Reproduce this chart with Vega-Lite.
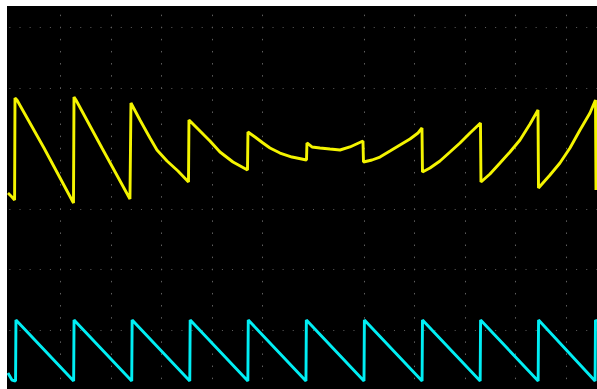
{
  "$schema": "https://vega.github.io/schema/vega-lite/v6.json",
  "width": 597,
  "height": 389,
  "autosize": {"type": "fit", "contains": "padding"},
  "padding": {"left": 7, "top": 6, "right": 0, "bottom": 0},
  "background": "white",
  "config": {
    "view": {"fill": "black", "stroke": null},
    "axis": {"labels": false, "ticks": false, "domain": false, "title": null}
  },
  "datasets": {
    "trace": [
      {"ch": "CH1", "t": -6.028, "v": -0.744},
      {"ch": "CH1", "t": -5.949, "v": -0.810},
      {"ch": "CH1", "t": -5.897, "v": -0.860},
      {"ch": "CH1", "t": -5.889, "v": 0.826},
      {"ch": "CH1", "t": -5.850, "v": 0.793},
      {"ch": "CH1", "t": -5.316, "v": 0.000},
      {"ch": "CH1", "t": -4.733, "v": -0.909},
      {"ch": "CH1", "t": -4.723, "v": 0.843},
      {"ch": "CH1", "t": -4.684, "v": 0.793},
      {"ch": "CH1", "t": -4.170, "v": 0.000},
      {"ch": "CH1", "t": -3.617, "v": -0.843},
      {"ch": "CH1", "t": -3.597, "v": 0.744},
      {"ch": "CH1", "t": -3.419, "v": 0.463},
      {"ch": "CH1", "t": -3.221, "v": 0.165},
      {"ch": "CH1", "t": -3.083, "v": -0.033},
      {"ch": "CH1", "t": -2.885, "v": -0.215},
      {"ch": "CH1", "t": -2.668, "v": -0.380},
      {"ch": "CH1", "t": -2.460, "v": -0.562},
      {"ch": "CH1", "t": -2.451, "v": 0.463},
      {"ch": "CH1", "t": -2.391, "v": 0.413},
      {"ch": "CH1", "t": -2.233, "v": 0.281},
      {"ch": "CH1", "t": -2.036, "v": 0.116},
      {"ch": "CH1", "t": -1.838, "v": -0.066},
      {"ch": "CH1", "t": -1.581, "v": -0.231},
      {"ch": "CH1", "t": -1.294, "v": -0.364},
      {"ch": "CH1", "t": -1.285, "v": 0.264},
      {"ch": "CH1", "t": -1.146, "v": 0.182},
      {"ch": "CH1", "t": -0.988, "v": 0.083},
      {"ch": "CH1", "t": -0.850, "v": 0.000},
      {"ch": "CH1", "t": -0.652, "v": -0.083},
      {"ch": "CH1", "t": -0.415, "v": -0.149},
      {"ch": "CH1", "t": -0.128, "v": -0.198},
      {"ch": "CH1", "t": -0.119, "v": 0.083},
      {"ch": "CH1", "t": -0.020, "v": 0.017},
      {"ch": "CH1", "t": 0.138, "v": 0.000},
      {"ch": "CH1", "t": 0.336, "v": -0.017},
      {"ch": "CH1", "t": 0.534, "v": -0.033},
      {"ch": "CH1", "t": 0.731, "v": 0.017},
      {"ch": "CH1", "t": 0.988, "v": 0.116},
      {"ch": "CH1", "t": 0.998, "v": -0.231},
      {"ch": "CH1", "t": 1.166, "v": -0.198},
      {"ch": "CH1", "t": 1.324, "v": -0.149},
      {"ch": "CH1", "t": 1.522, "v": -0.050},
      {"ch": "CH1", "t": 1.719, "v": 0.050},
      {"ch": "CH1", "t": 1.917, "v": 0.149},
      {"ch": "CH1", "t": 2.075, "v": 0.248},
      {"ch": "CH1", "t": 2.154, "v": 0.331},
      {"ch": "CH1", "t": 2.164, "v": -0.397},
      {"ch": "CH1", "t": 2.312, "v": -0.331},
      {"ch": "CH1", "t": 2.510, "v": -0.215},
      {"ch": "CH1", "t": 2.708, "v": -0.066},
      {"ch": "CH1", "t": 2.905, "v": 0.083},
      {"ch": "CH1", "t": 3.103, "v": 0.248},
      {"ch": "CH1", "t": 3.310, "v": 0.413},
      {"ch": "CH1", "t": 3.320, "v": -0.562},
      {"ch": "CH1", "t": 3.498, "v": -0.430},
      {"ch": "CH1", "t": 3.696, "v": -0.248},
      {"ch": "CH1", "t": 3.893, "v": -0.066},
      {"ch": "CH1", "t": 4.091, "v": 0.132},
      {"ch": "CH1", "t": 4.289, "v": 0.397},
      {"ch": "CH1", "t": 4.447, "v": 0.628},
      {"ch": "CH1", "t": 4.457, "v": -0.661},
      {"ch": "CH1", "t": 4.684, "v": -0.446},
      {"ch": "CH1", "t": 4.881, "v": -0.248},
      {"ch": "CH1", "t": 5.079, "v": 0.000},
      {"ch": "CH1", "t": 5.277, "v": 0.298},
      {"ch": "CH1", "t": 5.474, "v": 0.579},
      {"ch": "CH1", "t": 5.583, "v": 0.793},
      {"ch": "CH1", "t": 5.593, "v": -0.694},

      {"ch": "CH2", "t": -6.028, "v": -3.719},
      {"ch": "CH2", "t": -5.949, "v": -3.835},
      {"ch": "CH2", "t": -5.878, "v": -3.851},
      {"ch": "CH2", "t": -5.870, "v": -2.843},
      {"ch": "CH2", "t": -4.730, "v": -3.851},
      {"ch": "CH2", "t": -4.722, "v": -2.843},
      {"ch": "CH2", "t": -3.582, "v": -3.851},
      {"ch": "CH2", "t": -3.574, "v": -2.843},
      {"ch": "CH2", "t": -2.435, "v": -3.851},
      {"ch": "CH2", "t": -2.427, "v": -2.843},
      {"ch": "CH2", "t": -1.287, "v": -3.851},
      {"ch": "CH2", "t": -1.279, "v": -2.843},
      {"ch": "CH2", "t": -0.139, "v": -3.851},
      {"ch": "CH2", "t": -0.131, "v": -2.843},
      {"ch": "CH2", "t": 1.008, "v": -3.851},
      {"ch": "CH2", "t": 1.016, "v": -2.843},
      {"ch": "CH2", "t": 2.156, "v": -3.851},
      {"ch": "CH2", "t": 2.164, "v": -2.843},
      {"ch": "CH2", "t": 3.304, "v": -3.851},
      {"ch": "CH2", "t": 3.312, "v": -2.843},
      {"ch": "CH2", "t": 4.450, "v": -3.851},
      {"ch": "CH2", "t": 4.458, "v": -2.843},
      {"ch": "CH2", "t": 5.575, "v": -3.851},
      {"ch": "CH2", "t": 5.583, "v": -2.843},
      {"ch": "CH2", "t": 5.613, "v": -2.870}
    ]
  },
  "layer": [
    {
      "description": "Horizontal centre axis with its minor tick marks",
      "mark": {"type": "rule", "color": "#6e6e6e", "strokeWidth": 6, "strokeDash": [1, 9.12], "strokeDashOffset": 8.22},
      "encoding": {
        "y": {"datum": 0, "type": "quantitative", "scale": {"domain": [-3.983, 2.347], "nice": false, "zero": false}},
        "x": {"datum": -6.047, "type": "quantitative", "scale": {"domain": [-6.047, 5.613], "nice": false, "zero": false}},
        "x2": {"datum": 5.613}
      }
    },
    {
      "description": "Vertical centre axis with its minor tick marks",
      "mark": {"type": "rule", "color": "#6e6e6e", "strokeWidth": 5, "strokeDash": [1.5, 10.6], "strokeDashOffset": 3.95},
      "encoding": {
        "x": {"datum": 0, "type": "quantitative", "scale": {"domain": [-6.047, 5.613], "nice": false, "zero": false}},
        "y": {"datum": 2.347, "type": "quantitative", "scale": {"domain": [-3.983, 2.347], "nice": false, "zero": false}},
        "y2": {"datum": -3.983}
      }
    },
    {
      "description": "Left edge of the graticule",
      "mark": {"type": "rule", "color": "#4c4c4c", "strokeWidth": 2},
      "encoding": {
        "x": {"datum": -6.02, "type": "quantitative", "scale": {"domain": [-6.047, 5.613], "nice": false, "zero": false}}
      }
    },
    {
      "data": {"name": "trace"},
      "mark": {"type": "line", "strokeWidth": 2.9, "strokeJoin": "bevel", "clip": true},
      "encoding": {
        "x": {
          "field": "t", "type": "quantitative",
          "scale": {"domain": [-6.047, 5.613], "nice": false, "zero": false},
          "axis": {"grid": true, "values": [-5, -4, -3, -2, -1, 1, 2, 3, 4, 5], "gridColor": "#5e5e5e", "gridWidth": 1, "gridDash": [1.5, 10.6], "gridDashOffset": 3.95}
        },
        "y": {
          "field": "v", "type": "quantitative",
          "scale": {"domain": [-3.983, 2.347], "nice": false, "zero": false},
          "axis": {"grid": true, "values": [-3, -2, -1, 1, 2], "gridColor": "#5e5e5e", "gridWidth": 1, "gridDash": [1, 9.12], "gridDashOffset": 8.22}
        },
        "color": {"field": "ch", "type": "nominal", "scale": {"domain": ["CH1", "CH2"], "range": ["#f4f400", "#00eef4"]}, "legend": null},
        "detail": {"field": "ch"}
      }
    }
  ]
}
